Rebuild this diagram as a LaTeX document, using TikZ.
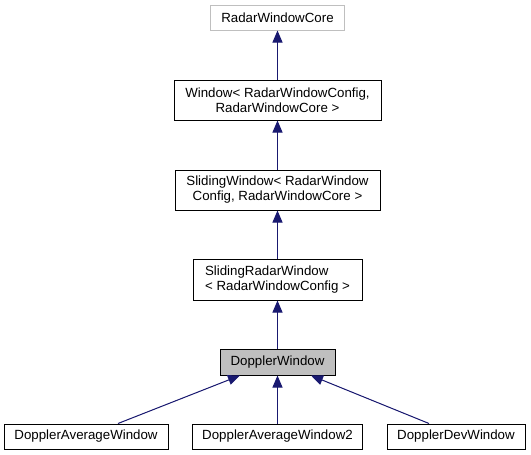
\documentclass[tikz,border=0pt]{standalone}
\usepackage{fontspec}
\setmainfont{Liberation Sans}
\usetikzlibrary{arrows.meta}
\definecolor{edgeblue}{HTML}{191970}
\definecolor{boxgray}{HTML}{BFBFBF}
\tikzset{
  cls/.style={draw=black, line width=1pt, fill=white, inner sep=0pt, align=center,
    font=\fontsize{13.3}{15}\selectfont},
  ext/.style={cls, draw=boxgray},
  cur/.style={cls, fill=boxgray},
  edge/.style={draw=edgeblue, line width=1pt, -{Triangle[length=12pt,width=10pt]}, fill=edgeblue},
}
\begin{document}
\begin{tikzpicture}[x=1pt,y=-1pt]
\useasboundingbox (0,0) rectangle (531,455);
\node[ext, minimum width=134pt, minimum height=25pt] (rwc) at (277.5,17.5) {RadarWindowCore};
\node[cls, minimum width=207pt, minimum height=40pt] (win) at (277.5,100) {Window< RadarWindowConfig,\\ RadarWindowCore >};
\node[cls, minimum width=205pt, minimum height=40pt] (sw) at (277.5,190) {SlidingWindow< RadarWindow\\Config, RadarWindowCore >};
\node[cls, minimum width=169pt, minimum height=41pt, align=left] (srw) at (277.5,279.5) {SlidingRadarWindow\\< RadarWindowConfig >};
\node[cur, minimum width=115pt, minimum height=26pt] (dw) at (277.5,362) {DopplerWindow};
\node[cls, minimum width=164pt, minimum height=25pt] (daw) at (86,436.5) {DopplerAverageWindow};
\node[cls, minimum width=170pt, minimum height=25pt] (daw2) at (277.5,436.5) {DopplerAverageWindow2};
\node[cls, minimum width=138pt, minimum height=25pt] (dev) at (456,436.5) {DopplerDevWindow};
\draw[edge] (win.north) -- (rwc.south);
\draw[edge] (sw.north) -- (win.south);
\draw[edge] (srw.north) -- (sw.south);
\draw[edge] (dw.north) -- (srw.south);
\draw[edge] ([xshift=32pt]daw.north) -- ([xshift=-37.5pt]dw.south);
\draw[edge] (daw2.north) -- (dw.south);
\draw[edge] ([xshift=-27pt]dev.north) -- ([xshift=33.5pt]dw.south);
\end{tikzpicture}
\end{document}
